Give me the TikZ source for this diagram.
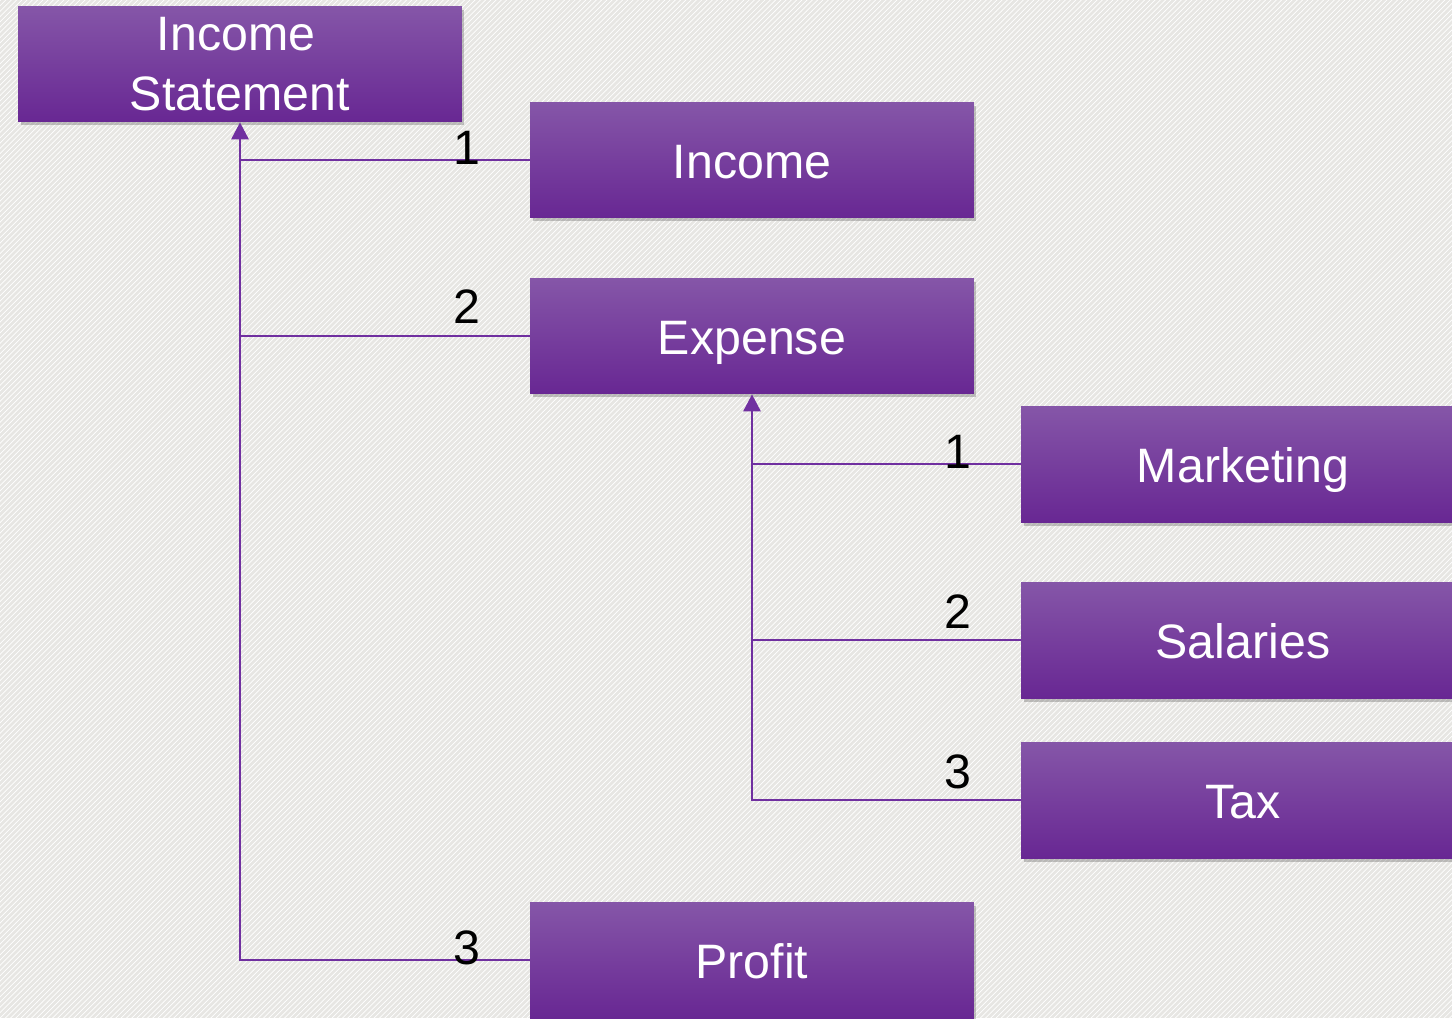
\documentclass[tikz,border=0pt]{standalone}
\usepackage{fontspec}
\setmainfont{Liberation Sans}
\usetikzlibrary{arrows.meta,shadows,patterns}
\definecolor{bgbase}{HTML}{E7E6E3}
\definecolor{linecol}{HTML}{7030A0}
\definecolor{boxtop}{HTML}{8556A8}
\definecolor{boxbot}{HTML}{682793}
\tikzset{
  boxbase/.style={rectangle, minimum width=8.88cm, minimum height=2.32cm, inner sep=0pt,
    top color=boxtop, bottom color=boxbot, draw=none, text=white,
    font=\fontsize{27.5}{33}\selectfont, align=center,
    drop shadow={shadow xshift=0.05cm, shadow yshift=-0.07cm, opacity=0.3, fill=black!70}},
  box/.style={boxbase, text height=0.94cm, text depth=0.2cm},
  conn/.style={draw=linecol, line width=0.055cm},
  arr/.style={conn, -{Triangle[length=0.34cm, width=0.34cm]}},
  num/.style={font=\fontsize{27.5}{33}\selectfont, text=black, inner sep=0pt}
}
\begin{document}
\begin{tikzpicture}[x=0.02cm,y=-0.02cm]
\useasboundingbox (0,0) rectangle (1452,1018);
\clip (0,0) rectangle (1452,1018);
\fill[bgbase] (0,0) rectangle (1452,1018);
\fill[pattern=north east lines, pattern color=white] (0,0) rectangle (1452,1018);

\node[boxbase] (IS) at (240,64) {Income\,\\[0.04cm]Statement};
\node[box] (Inc) at (752,160) {Income};
\node[box] (Exp) at (752,336) {Expense};
\node[box] (Mkt) at (1243,464) {Marketing};
\node[box] (Sal) at (1243,640) {Salaries};
\node[box] (Tax) at (1243,800) {Tax};
\node[box] (Pro) at (752,960) {Profit};

\draw[arr] (Pro.west) -| (IS.south);
\draw[conn] (Inc.west) -- (Inc.west -| IS.south);
\draw[conn] (Exp.west) -- (Exp.west -| IS.south);

\draw[arr] (Tax.west) -| (Exp.south);
\draw[conn] (Mkt.west) -- (Mkt.west -| Exp.south);
\draw[conn] (Sal.west) -- (Sal.west -| Exp.south);

\node[num] (n1) at (467,148) {1};
\node[num] (n2) at (467,307) {2};
\node[num] (n3) at (467,948) {3};
\node[num] (m1) at (958,452) {1};
\node[num] (m2) at (958,612) {2};
\node[num] (m3) at (958,772) {3};
\end{tikzpicture}
\end{document}
